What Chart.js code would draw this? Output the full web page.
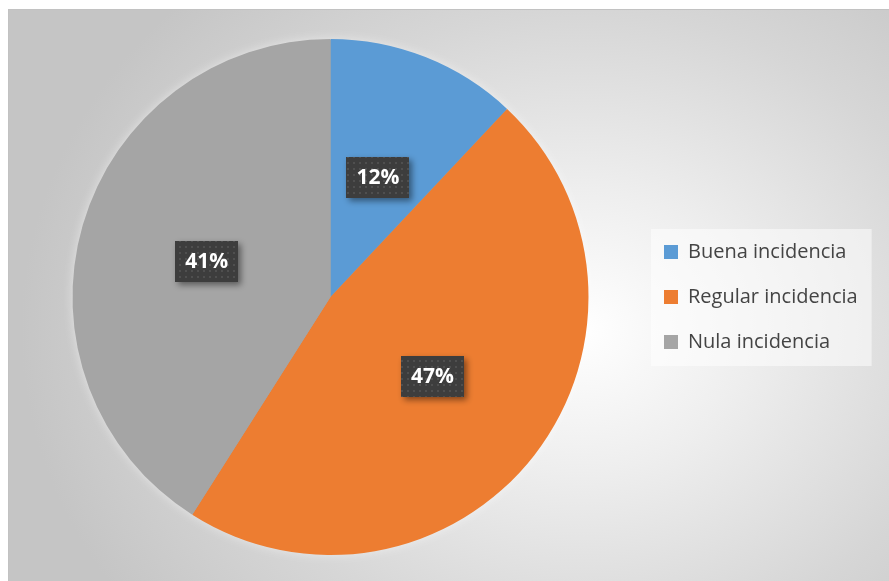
<!DOCTYPE html>
<html>
<head>
<meta charset="utf-8">
<script src="https://cdn.jsdelivr.net/npm/chart.js@4.4.1/dist/chart.umd.min.js"></script>
<style>
html, body { margin: 0; padding: 0; background: #fff; overflow: hidden; }
#frame {
  position: absolute; left: 8px; top: 9px; width: 900px; height: 600px;
  border: 1px solid #c2c2c2;
  background: radial-gradient(ellipse 560px 470px at 572px 320px, #ffffff 0%, #eeeeee 30%, #d6d6d6 68%, #c5c5c5 100%);
}
#pie { position: absolute; left: 0; top: 0; }
</style>
</head>
<body>
<div id="frame"><canvas id="pie" width="880" height="571"></canvas></div>
<script>
const categories = ['Buena incidencia', 'Regular incidencia', 'Nula incidencia'];
const shares = [12, 47, 41];
const sliceColors = ['#5B9BD5', '#ED7D31', '#A5A5A5'];
const labelText = shares.map(v => v + '%');

// little dotted tile for the dark label boxes
const dots = document.createElement('canvas');
dots.width = 6; dots.height = 6;
const dctx = dots.getContext('2d');
dctx.fillStyle = '#3d3d3d'; dctx.fillRect(0, 0, 6, 6);
dctx.fillStyle = '#4f4f4f'; dctx.fillRect(2, 2, 2, 2);

// light legend panel behind the legend items
const legendPanel = {
  id: 'legendPanel',
  beforeDraw(chart) {
    const hb = chart.legend && chart.legend.legendHitBoxes;
    if (!hb || !hb.length) return;
    const left = Math.min(...hb.map(b => b.left)) - 13;
    const right = Math.max(...hb.map(b => b.left + b.width)) + 14;
    const top = hb[0].top - 13;
    const last = hb[hb.length - 1];
    const bottom = last.top + last.height + 14;
    const ctx = chart.ctx;
    ctx.save();
    ctx.fillStyle = 'rgba(255,255,255,0.5)';
    ctx.fillRect(left, top, right - left, bottom - top);
    ctx.restore();
  }
};

// soft white glow round the pie
const pieGlow = {
  id: 'pieGlow',
  beforeDatasetsDraw(chart) {
    const arc = chart.getDatasetMeta(0).data[0];
    if (!arc) return;
    const ctx = chart.ctx;
    ctx.save();
    ctx.shadowColor = 'rgba(255,255,255,0.55)';
    ctx.shadowBlur = 12;
    ctx.fillStyle = sliceColors[2];
    ctx.beginPath();
    ctx.arc(arc.x, arc.y, arc.outerRadius - 1, 0, Math.PI * 2);
    ctx.fill();
    ctx.restore();
  }
};

const labelBoxes = {
  id: 'labelBoxes',
  afterDatasetsDraw(chart) {
    const ctx = chart.ctx;
    const meta = chart.getDatasetMeta(0);
    const pattern = ctx.createPattern(dots, 'repeat');
    ctx.save();
    ctx.font = 'bold 21px "Open Sans"';
    meta.data.forEach((arc, i) => {
      const p = arc.getCenterPoint();
      const text = labelText[i];
      const w = Math.round(ctx.measureText(text).width + 20);
      const h = 41;
      ctx.save();
      ctx.shadowColor = 'rgba(0,0,0,0.45)';
      ctx.shadowBlur = 6;
      ctx.shadowOffsetX = 3;
      ctx.shadowOffsetY = 3;
      ctx.fillStyle = pattern;
      ctx.fillRect(Math.round(p.x - w / 2), Math.round(p.y - h / 2), w, h);
      ctx.restore();
      ctx.fillStyle = '#ffffff';
      ctx.textAlign = 'center';
      ctx.textBaseline = 'middle';
      ctx.fillText(text, p.x, p.y + 1);
    });
    ctx.restore();
  }
};

const chart = new Chart(document.getElementById('pie'), {
  type: 'pie',
  data: {
    labels: categories,
    datasets: [{
      data: shares,
      backgroundColor: sliceColors,
      borderWidth: 0,
      hoverOffset: 0
    }]
  },
  options: {
    responsive: false,
    animation: false,
    events: [],
    layout: { padding: { left: 13, top: 29, bottom: 26, right: 10 } },
    plugins: {
      tooltip: { enabled: false },
      legend: {
        position: 'right',
        align: 'center',
        labels: {
          boxWidth: 14,
          boxHeight: 14,
          padding: 25,
          color: '#444444',
          font: { family: '"Open Sans"', size: 20 }
        }
      }
    }
  },
  plugins: [legendPanel, pieGlow, labelBoxes]
});

// put the legend so its left edge sits at x=630 in the canvas
chart.options.layout.padding.right = Math.max(0, 880 - 630 - chart.legend.width);
chart.update('none');
</script>
</body>
</html>
